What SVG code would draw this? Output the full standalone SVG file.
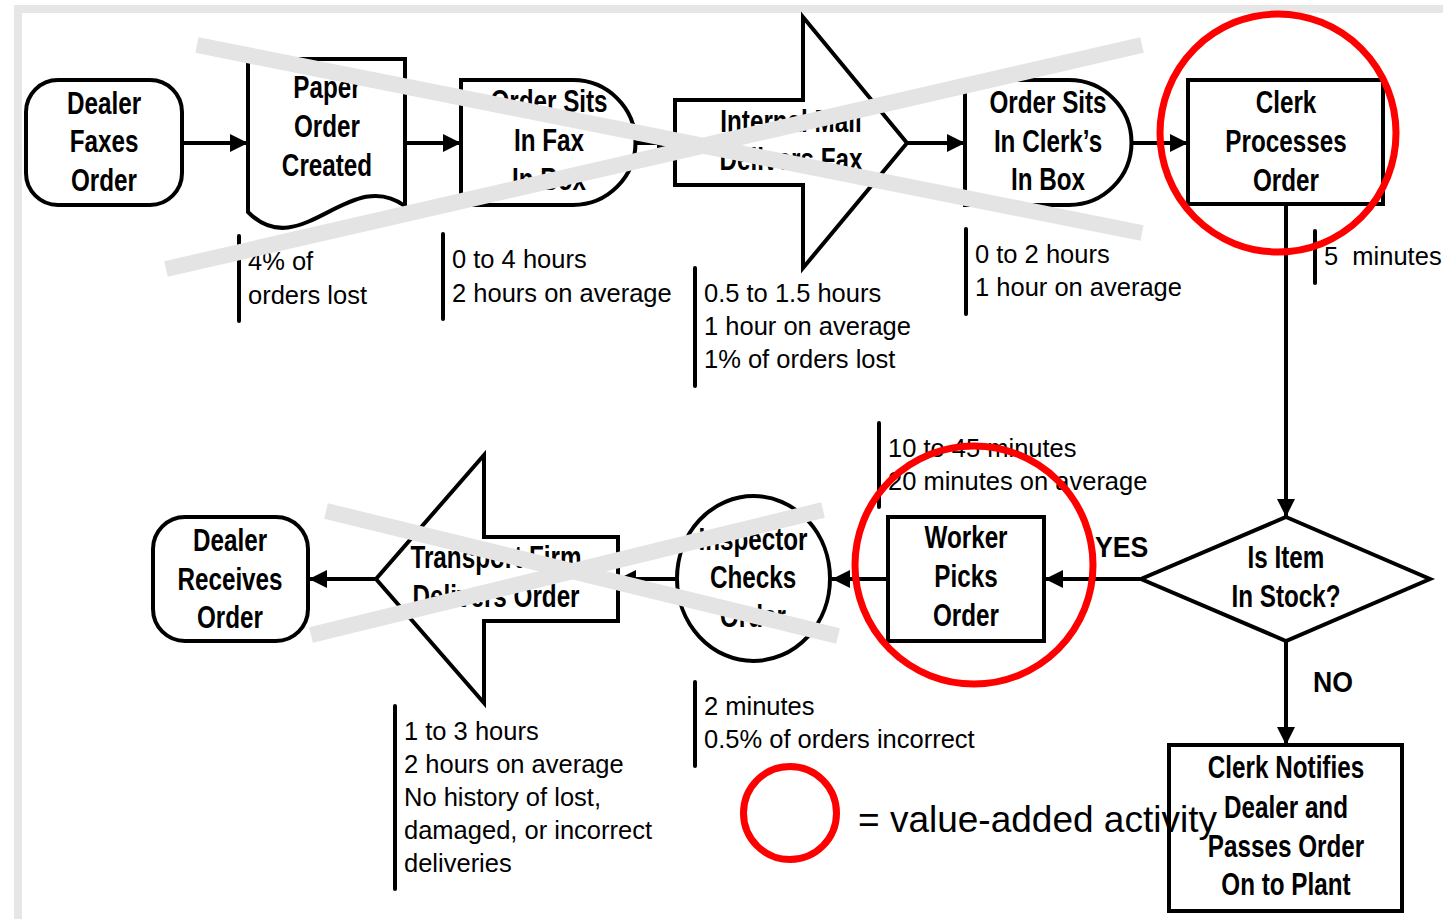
<svg xmlns="http://www.w3.org/2000/svg" width="1443" height="919" viewBox="0 0 1443 919">
<style>
.shape{fill:#fff;stroke:#000;stroke-width:4;stroke-linejoin:miter}
.conn{fill:none;stroke:#000;stroke-width:4}
.bar{stroke:#000;stroke-width:4;stroke-linecap:round}
.lbl{font-family:"Liberation Sans",Arial,sans-serif;font-weight:bold;font-size:30.5px;text-anchor:middle;fill:#000}
.note{font-family:"Liberation Sans",Arial,sans-serif;font-size:25.5px;fill:#000}
.yn{font-family:"Liberation Sans",Arial,sans-serif;font-weight:bold;font-size:29px;fill:#000}
.cross{stroke:#e4e4e4;stroke-width:16;fill:none}
.va{fill:none;stroke:#ff0000;stroke-width:7}
</style>
<defs>
<marker id="ah" markerUnits="userSpaceOnUse" markerWidth="18" markerHeight="18" refX="18" refY="9" orient="auto">
<path d="M0,0 L18,9 L0,18 Z" fill="#000"/>
</marker>
</defs>
<rect width="1443" height="919" fill="#fff"/>
<path d="M18,919 V9 H1443" fill="none" stroke="#e6e6e6" stroke-width="8"/>

<g id="connectors">
<line class="conn" x1="183" y1="143" x2="248" y2="143" marker-end="url(#ah)"/>
<line class="conn" x1="405" y1="143" x2="461" y2="143" marker-end="url(#ah)"/>
<line class="conn" x1="636" y1="143" x2="675" y2="143" marker-end="url(#ah)"/>
<line class="conn" x1="907" y1="143" x2="965" y2="143" marker-end="url(#ah)"/>
<line class="conn" x1="1132" y1="143" x2="1188" y2="143" marker-end="url(#ah)"/>
<line class="conn" x1="1286" y1="205" x2="1286" y2="517" marker-end="url(#ah)"/>
<line class="conn" x1="1286" y1="641" x2="1286" y2="745" marker-end="url(#ah)"/>
<line class="conn" x1="1140" y1="579" x2="1045" y2="579" marker-end="url(#ah)"/>
<line class="conn" x1="888" y1="579" x2="832" y2="579" marker-end="url(#ah)"/>
<line class="conn" x1="675" y1="579" x2="618" y2="579" marker-end="url(#ah)"/>
<line class="conn" x1="376" y1="579" x2="309" y2="579" marker-end="url(#ah)"/>
<text class="yn" transform="matrix(0.92,0,0,1,1095,557)">YES</text>
<text class="yn" transform="matrix(0.92,0,0,1,1313,692)">NO</text>
</g>

<g id="dealer-faxes">
<rect class="shape" x="26" y="80" width="156" height="125" rx="32"/>
<text class="lbl" transform="matrix(0.795,0,0,1,104,114)">Dealer</text>
<text class="lbl" transform="matrix(0.795,0,0,1,104,152)">Faxes</text>
<text class="lbl" transform="matrix(0.795,0,0,1,104,191)">Order</text>
</g>

<g id="paper-order">
<path class="shape" d="M248,59 H405 V206 C350,165 300,265 248,212 Z"/>
<text class="lbl" transform="matrix(0.795,0,0,1,327,98)">Paper</text>
<text class="lbl" transform="matrix(0.795,0,0,1,327,137)">Order</text>
<text class="lbl" transform="matrix(0.795,0,0,1,327,176)">Created</text>
<line class="bar" x1="239" y1="236" x2="239" y2="321"/>
<text class="note" x="248" y="270">4% of</text>
<text class="note" x="248" y="304">orders lost</text>
</g>

<g id="fax-inbox">
<path class="shape" d="M461,80 H573 A62.5,62.5 0 0 1 573,205 H461 Z"/>
<text class="lbl" transform="matrix(0.795,0,0,1,549,112)">Order Sits</text>
<text class="lbl" transform="matrix(0.795,0,0,1,549,151)">In Fax</text>
<text class="lbl" transform="matrix(0.795,0,0,1,549,190)">In Box</text>
<line class="bar" x1="443" y1="234" x2="443" y2="319"/>
<text class="note" x="452" y="268">0 to 4 hours</text>
<text class="note" x="452" y="302">2 hours on average</text>
</g>

<g id="internal-mail">
<path class="shape" d="M675,100 H803 V17 L907,143 L803,268 V185 H675 Z"/>
<text class="lbl" transform="matrix(0.795,0,0,1,791,132)">Internal Mail</text>
<text class="lbl" transform="matrix(0.795,0,0,1,791,170)">Delivers Fax</text>
<line class="bar" x1="695" y1="268" x2="695" y2="386"/>
<text class="note" x="704" y="302">0.5 to 1.5 hours</text>
<text class="note" x="704" y="335">1 hour on average</text>
<text class="note" x="704" y="368">1% of orders lost</text>
</g>

<g id="clerk-inbox">
<path class="shape" d="M965,80 H1069 A62.5,62.5 0 0 1 1069,205 H965 Z"/>
<text class="lbl" transform="matrix(0.795,0,0,1,1048,113)">Order Sits</text>
<text class="lbl" transform="matrix(0.795,0,0,1,1048,152)">In Clerk’s</text>
<text class="lbl" transform="matrix(0.795,0,0,1,1048,190)">In Box</text>
<line class="bar" x1="966" y1="229" x2="966" y2="314"/>
<text class="note" x="975" y="263">0 to 2 hours</text>
<text class="note" x="975" y="296">1 hour on average</text>
</g>

<g id="clerk-processes">
<rect class="shape" x="1188" y="80" width="195" height="124"/>
<text class="lbl" transform="matrix(0.795,0,0,1,1286,113)">Clerk</text>
<text class="lbl" transform="matrix(0.795,0,0,1,1286,152)">Processes</text>
<text class="lbl" transform="matrix(0.795,0,0,1,1286,191)">Order</text>
<line class="bar" x1="1315" y1="231" x2="1315" y2="283"/>
<text class="note" x="1324" y="265" xml:space="preserve">5  minutes</text>
</g>

<g id="in-stock">
<path class="shape" d="M1286,517 L1430,579 L1286,641 L1141,579 Z"/>
<text class="lbl" transform="matrix(0.795,0,0,1,1286,568)">Is Item</text>
<text class="lbl" transform="matrix(0.795,0,0,1,1286,607)">In Stock?</text>
</g>

<g id="clerk-notifies">
<rect class="shape" x="1169" y="745" width="233" height="166"/>
<text class="lbl" transform="matrix(0.795,0,0,1,1286,778)">Clerk Notifies</text>
<text class="lbl" transform="matrix(0.795,0,0,1,1286,818)">Dealer and</text>
<text class="lbl" transform="matrix(0.795,0,0,1,1286,857)">Passes Order</text>
<text class="lbl" transform="matrix(0.795,0,0,1,1286,895)">On to Plant</text>
</g>

<g id="worker-picks">
<rect class="shape" x="888" y="517" width="156" height="124"/>
<text class="lbl" transform="matrix(0.795,0,0,1,966,548)">Worker</text>
<text class="lbl" transform="matrix(0.795,0,0,1,966,587)">Picks</text>
<text class="lbl" transform="matrix(0.795,0,0,1,966,626)">Order</text>
<line class="bar" x1="879" y1="423" x2="879" y2="507"/>
<text class="note" x="888" y="457">10 to 45 minutes</text>
<text class="note" x="888" y="490">20 minutes on average</text>
</g>

<g id="inspector">
<ellipse class="shape" cx="753.5" cy="578.5" rx="76.5" ry="82.5"/>
<text class="lbl" transform="matrix(0.795,0,0,1,753,550)">Inspector</text>
<text class="lbl" transform="matrix(0.795,0,0,1,753,588)">Checks</text>
<text class="lbl" transform="matrix(0.795,0,0,1,753,627)">Order</text>
<line class="bar" x1="695" y1="682" x2="695" y2="766"/>
<text class="note" x="704" y="715">2 minutes</text>
<text class="note" x="704" y="748">0.5% of orders incorrect</text>
</g>

<g id="transport">
<path class="shape" d="M618,537 H484 V455 L376,579 L484,703 V621 H618 Z"/>
<text class="lbl" transform="matrix(0.795,0,0,1,496,568)">Transport Firm</text>
<text class="lbl" transform="matrix(0.795,0,0,1,496,607)">Delivers Order</text>
<line class="bar" x1="395" y1="706" x2="395" y2="889"/>
<text class="note" x="404" y="740">1 to 3 hours</text>
<text class="note" x="404" y="773">2 hours on average</text>
<text class="note" x="404" y="806">No history of lost,</text>
<text class="note" x="404" y="839">damaged, or incorrect</text>
<text class="note" x="404" y="872">deliveries</text>
</g>

<g id="dealer-receives">
<rect class="shape" x="153" y="517" width="155" height="124" rx="32"/>
<text class="lbl" transform="matrix(0.795,0,0,1,230,551)">Dealer</text>
<text class="lbl" transform="matrix(0.795,0,0,1,230,590)">Receives</text>
<text class="lbl" transform="matrix(0.795,0,0,1,230,628)">Order</text>
</g>

<g id="cross-outs">
<line class="cross" x1="197" y1="45" x2="1142" y2="233"/>
<line class="cross" x1="166" y1="269" x2="1142" y2="45"/>
<line class="cross" x1="326" y1="511" x2="838" y2="636"/>
<line class="cross" x1="311" y1="635" x2="823" y2="510"/>
</g>

<g id="value-added">
<ellipse class="va" cx="1278" cy="133" rx="118" ry="119"/>
<circle class="va" cx="974" cy="565" r="119"/>
</g>

<g id="legend">
<circle class="va" cx="790" cy="813" r="46.5" stroke-width="8"/>
<text x="858" y="832" font-family="Liberation Sans, Arial, sans-serif" font-size="37">= value-added activity</text>
</g>
</svg>
